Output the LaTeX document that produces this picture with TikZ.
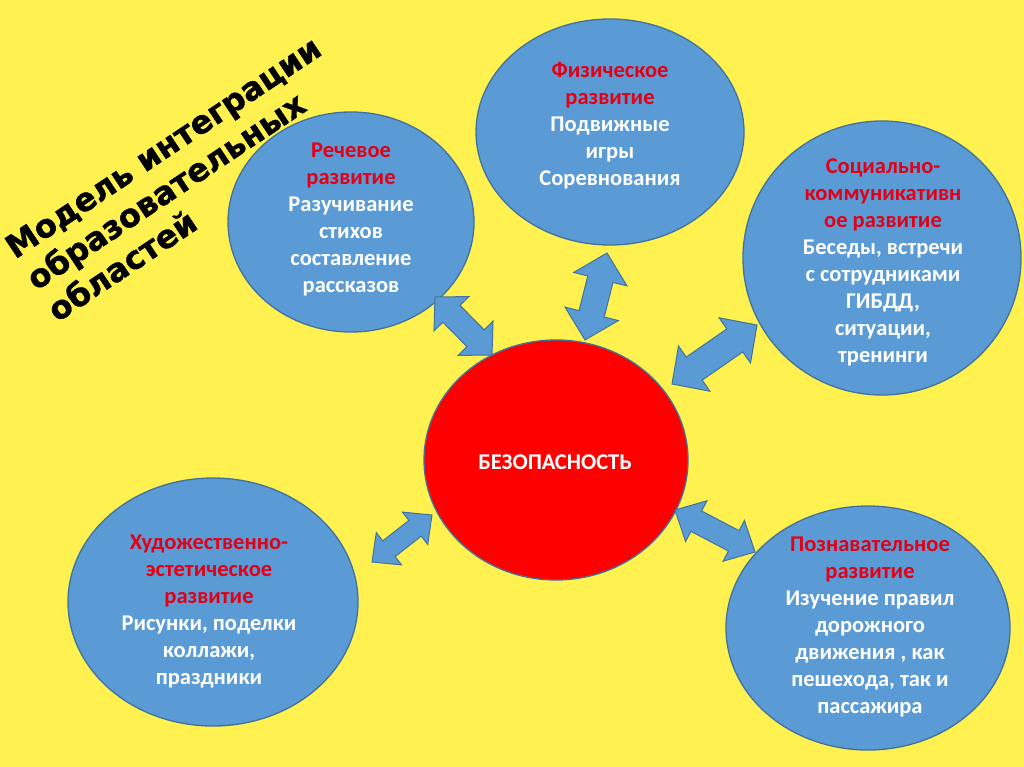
\documentclass[tikz,border=0pt]{standalone}
\usepackage{fontspec}
\setmainfont{Carlito}
\newfontfamily\titlefont[BoldFeatures={FakeBold=1.2}]{DejaVu Sans}
\usetikzlibrary{shapes.geometric,calc}
\definecolor{bgyellow}{RGB}{255,242,80}
\definecolor{bluefill}{RGB}{91,155,213}
\definecolor{blueline}{RGB}{65,113,156}
\definecolor{redfill}{RGB}{255,0,0}
\definecolor{titlered}{RGB}{226,0,22}
\newcommand\rt[1]{\textcolor{titlered}{#1}}
\newcommand\blkarrow[5]{%
  \coordinate (#1h) at ($(#1)!#5!(#2)$);
  \coordinate (#2h) at ($(#2)!#5!(#1)$);
  \draw[blockarrow] (#1) -- ($(#1h)!#4!90:(#2)$) -- ($(#1h)!#3!90:(#2)$)
    -- ($(#2h)!#3!-90:(#1)$) -- ($(#2h)!#4!-90:(#1)$) -- (#2)
    -- ($(#2h)!#4!90:(#1)$) -- ($(#2h)!#3!90:(#1)$)
    -- ($(#1h)!#3!-90:(#2)$) -- ($(#1h)!#4!-90:(#2)$) -- cycle;}
\begin{document}
\begin{tikzpicture}[x=1pt,y=1pt,
  area/.style={ellipse, draw=blueline, line width=1.3pt, fill=bluefill, inner sep=0pt},
  core/.style={ellipse, draw=blueline, line width=1.3pt, fill=redfill, inner sep=0pt},
  txt/.style={align=center, text=white, inner sep=0pt, font=\fontsize{22.5}{27}\selectfont\bfseries},
  title/.style={anchor=north west, rotate=33.7, align=left, inner sep=0pt, text=black, font=\titlefont\bfseries\fontsize{32}{38}\selectfont},
  blockarrow/.style={fill=bluefill, draw=blueline, line width=1pt, line join=miter}]
\fill[bgyellow] (0,0) rectangle (1024,-767);
\useasboundingbox (0,0) rectangle (1024,-767);

% areas
\node[area, minimum width=246pt, minimum height=220pt] (rech) at (351,-222) {};
\node[area, minimum width=268pt, minimum height=226pt] (phys) at (610,-132) {};
\node[area, minimum width=278pt, minimum height=274pt] (soc) at (882,-258) {};
\node[area, minimum width=290pt, minimum height=248pt] (art) at (213,-602) {};
\node[area, minimum width=284pt, minimum height=244pt] (cog) at (868,-628) {};
\node[core, minimum width=264pt, minimum height=240pt] (safe) at (556,-460) {};

% texts
\node[txt] (rechT) at (351,-219) {\rt{Речевое}\\\rt{развитие}\\Разучивание\\стихов\\составление\\рассказов};
\node[txt] (physT) at (610,-126) {\rt{Физическое}\\\rt{развитие}\\Подвижные\\игры\\Соревнования};
\node[txt] (socT) at (883,-262) {\rt{Социально-}\\\rt{коммуникативн}\\\rt{ое развитие}\\Беседы, встречи\\с сотрудниками\\ГИБДД,\\ситуации,\\тренинги};
\node[txt] (artT) at (209,-612) {\rt{Художественно-}\\\rt{эстетическое}\\\rt{развитие}\\Рисунки, поделки\\коллажи,\\праздники};
\node[txt] (cogT) at (870,-627) {\rt{Познавательное}\\\rt{развитие}\\Изучение правил\\дорожного\\движения , как\\пешехода, так и\\пассажира};
\node[txt] (safeT) at (555,-462) {БЕЗОПАСНОСТЬ};

% arrow end points
\coordinate (a1s) at (435,-297);
\coordinate (a1e) at (492,-355);
\coordinate (a2s) at (607,-253);
\coordinate (a2e) at (585,-340);
\coordinate (a3s) at (757,-325);
\coordinate (a3e) at (672,-384);
\coordinate (a4s) at (432,-515);
\coordinate (a4e) at (372,-562);
\coordinate (a5s) at (675,-510);
\coordinate (a5e) at (755,-552);

\blkarrow{a1s}{a1e}{12pt}{24.5pt}{23.5pt}
\blkarrow{a2s}{a2e}{13pt}{27.5pt}{27pt}
\blkarrow{a3s}{a3e}{14pt}{27.5pt}{27pt}
\blkarrow{a4s}{a4e}{10pt}{20.5pt}{21.5pt}
\blkarrow{a5s}{a5e}{11.5pt}{23pt}{24pt}

% title (on top)
\node[title] (title) at (2,-240) {Модель интеграции\\образовательных\\областей};
\end{tikzpicture}
\end{document}
